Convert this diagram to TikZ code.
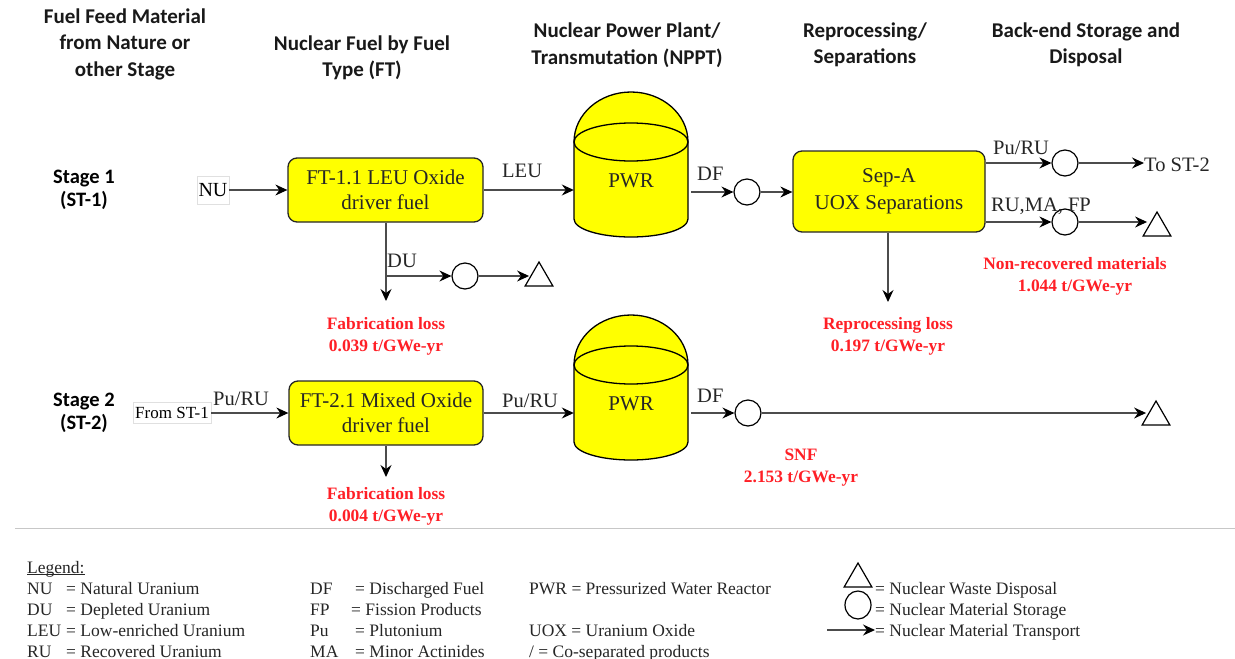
\documentclass[tikz,border=0pt]{standalone}
\usepackage{fontspec}
\usetikzlibrary{arrows.meta,shapes.geometric}
\setmainfont{Liberation Serif}
\newfontfamily\headfont{Carlito}
\definecolor{lossred}{RGB}{255,31,38}
\definecolor{pureyellow}{RGB}{255,255,0}
\tikzset{
  x=1pt,y=-1pt,
  flow/.style={draw=black!70,line width=1.1pt,-{Stealth[inset=4pt,length=12pt,width=11pt,color=black]}},
  procbox/.style={draw=black!85,line width=1.3pt,fill=pureyellow,rounded corners=9pt,align=center,font=\fontsize{21}{25}\selectfont,inner sep=0pt,text=black!85},
  store/.style={circle,draw=black,line width=1.2pt,fill=white,minimum size=26pt,inner sep=0pt},
  waste/.style={regular polygon,regular polygon sides=3,draw=black,line width=1.2pt,fill=white,minimum size=32pt,inner sep=0pt},
  head/.style={font=\headfont\bfseries\fontsize{21}{26.5}\selectfont,align=center,text=black!90},
  stagelbl/.style={font=\headfont\bfseries\fontsize{20.5}{22.5}\selectfont,align=center},
  lbl/.style={font=\fontsize{20.5}{22}\selectfont,inner sep=0pt,anchor=base west,text=black!85},
  loss/.style={font=\bfseries\fontsize{17.4}{22}\selectfont,text=lossred,align=center},
  leg/.style={font=\fontsize{17.5}{20}\selectfont,inner sep=0pt,anchor=base west,text=black!85},
  srcbox/.style={draw=black!12,line width=.6pt,fill=white,inner sep=0pt},
  tanklbl/.style={minimum width=114pt,minimum height=60pt,inner sep=0pt,font=\fontsize{21}{23}\selectfont,text=black!85},
  tank/.pic={
    \fill[pureyellow,draw=black,line width=1.3pt] (-57,0) .. controls (-57,-27.6) and (-31.5,-50) .. (0,-50) .. controls (31.5,-50) and (57,-27.6) .. (57,0) -- (57,77) .. controls (57,87) and (31.5,95) .. (0,95) .. controls (-31.5,95) and (-57,87) .. (-57,77) -- cycle;
    \draw[black,line width=1.3pt] (0,0) ellipse [x radius=57,y radius=19];
  },
}
\begin{document}
\begin{tikzpicture}
\useasboundingbox (0,0) rectangle (1235,659);
% headers
\node[head] (h1) at (125,44) {Fuel Feed Material\\from Nature or\\other Stage};
\node[head] (h2) at (362,58) {Nuclear Fuel by Fuel\\Type (FT)};
\node[head] (h3) at (627,45) {Nuclear Power Plant/\\Transmutation (NPPT)};
\node[head] (h4) at (865,45) {Reprocessing/\\Separations};
\node[head] (h5) at (1086,45) {Back-end Storage and\\Disposal};
\node[stagelbl] (s1) at (84,190) {Stage 1\\(ST-1)};
\node[stagelbl] (s2) at (84,413) {Stage 2\\(ST-2)};
% tanks
\pic at (631,142) {tank};
\pic at (631,365) {tank};
\node[tanklbl] (t1) at (631,181) {PWR};
\node[tanklbl] (t2) at (631,404) {PWR};
% boxes
\node[procbox,minimum width=195pt,minimum height=64pt] (ft1) at (385.5,190) {FT-1.1 LEU Oxide\\driver fuel};
\node[procbox,minimum width=194pt,minimum height=64pt] (ft2) at (386,413) {FT-2.1 Mixed Oxide\\driver fuel};
\node[procbox,minimum width=192pt,minimum height=81pt,font=\fontsize{21}{27}\selectfont] (sep) at (889,191.5) {Sep-A\\UOX Separations};
% sources
\node[srcbox,font=\fontsize{20}{22}\selectfont,minimum height=28pt,minimum width=32pt] (nu) at (213,190) {NU};
\node[srcbox,font=\fontsize{17}{19}\selectfont,minimum height=21pt,minimum width=78pt] (st1) at (172,413) {From ST-1};
\node[font=\fontsize{20.5}{22}\selectfont,inner sep=0pt,text=black!85] (tost) at (1177,165) {To ST-2};
% storage / waste
\node[store] (c1) at (747,192) {};
\node[store] (c2) at (1065,163) {};
\node[store] (c3) at (1065,222) {};
\node[store] (c4) at (465,276) {};
\node[store] (c5) at (748,413) {};
\node[waste] (w1) at (1157,228) {};
\node[waste] (w2) at (539,278) {};
\node[waste] (w3) at (1156,417) {};
% connector coordinates
\coordinate (duJ) at (386,276);
\coordinate (duE) at (386,301);
\coordinate (sepE) at (888,302);
\coordinate (ft2E) at (386,477);
% connectors
\draw[flow] (nu) -- (ft1);
\draw[flow] (ft1) -- (t1.west |- ft1.east);
\draw[flow] (ft1.south -| duJ) -- (duE);
\draw[flow] (duJ) -- (c4);
\draw[flow] (c4) -- (w2.west |- c4);
\draw[flow] ([xshift=3pt]t1.east |- c1) -- (c1);
\draw[flow] (c1) -- (sep.west |- c1);
\draw[flow] (sep.east |- c2) -- (c2);
\draw[flow] (c2) -- (tost.west |- c2);
\draw[flow] (sep.east |- c3) -- (c3);
\draw[flow] (c3) -- (w1.west |- c3);
\draw[flow] (sep.south -| sepE) -- (sepE);
\draw[flow] (st1) -- (ft2);
\draw[flow] (ft2) -- (t2.west |- ft2.east);
\draw[flow] ([xshift=3pt]t2.east |- c5) -- (c5);
\draw[flow] (ft2.south -| ft2E) -- (ft2E);
\draw[flow] (c5) -- (w3.west |- c5);
% flow labels
\node[lbl] (lLEU) at (502,177) {LEU};
\node[lbl] (lDF) at (697,180) {DF};
\node[lbl] (lDU) at (387,267) {DU};
\node[lbl] (lPu1) at (993,154) {Pu/RU};
\node[lbl] (lRu) at (991,211) {RU,MA, FP};
\node[lbl] (lPu2) at (213,405) {Pu/RU};
\node[lbl] (lPu3) at (502,407) {Pu/RU};
\node[lbl] (lDF2) at (697,402) {DF};
% losses
\node[loss] (x1) at (386,336) {Fabrication loss\\0.039 t/GWe-yr};
\node[loss] (x2) at (888,336) {Reprocessing loss\\0.197 t/GWe-yr};
\node[loss] (x3) at (1075,276) {Non-recovered materials\\1.044 t/GWe-yr};
\node[loss] (x4) at (386,506) {Fabrication loss\\0.004 t/GWe-yr};
\node[loss] (x5) at (801,468) {SNF\\2.153 t/GWe-yr};
% separator
\draw[black!22,line width=1pt] (15,528) -- (1235,528);
% legend
\node[leg] (g0) at (27,573) {\underline{\smash{Legend:}}};
\node[leg] (a1) at (27,594) {NU}; \node[leg] (a1e) at (66,594) {= Natural Uranium};
\node[leg] (a2) at (27,615) {DU}; \node[leg] (a2e) at (66,615) {= Depleted Uranium};
\node[leg] (a3) at (27,636) {LEU}; \node[leg] (a3e) at (66,636) {= Low-enriched Uranium};
\node[leg] (a4) at (27,657) {RU}; \node[leg] (a4e) at (66,657) {= Recovered Uranium};
\node[leg] (b1) at (310,594) {DF}; \node[leg] (b1e) at (355,594) {= Discharged Fuel};
\node[leg] (b2) at (310,615) {FP}; \node[leg] (b2e) at (351,615) {= Fission Products};
\node[leg] (b3) at (310,636) {Pu}; \node[leg] (b3e) at (355,636) {= Plutonium};
\node[leg] (b4) at (310,657) {MA}; \node[leg] (b4e) at (355,657) {= Minor Actinides};
\node[leg] (c1t) at (529,594) {PWR = Pressurized Water Reactor};
\node[leg] (c3t) at (529,636) {UOX = Uranium Oxide};
\node[leg] (c4t) at (529,657) {/ = Co-separated products};
\node[waste] (gw) at (858,579) {};
\node[ellipse,draw=black,line width=1.2pt,minimum width=26pt,minimum height=28pt,inner sep=0pt] (gc) at (858,605) {};
\coordinate (ga) at (827,630);
\node[leg] (d1) at (875,594) {= Nuclear Waste Disposal};
\node[leg] (d2) at (875,615) {= Nuclear Material Storage};
\node[leg] (d3) at (875,636) {= Nuclear Material Transport};
\draw[flow] (ga) -- (d3.west |- ga);
\end{tikzpicture}
\end{document}
